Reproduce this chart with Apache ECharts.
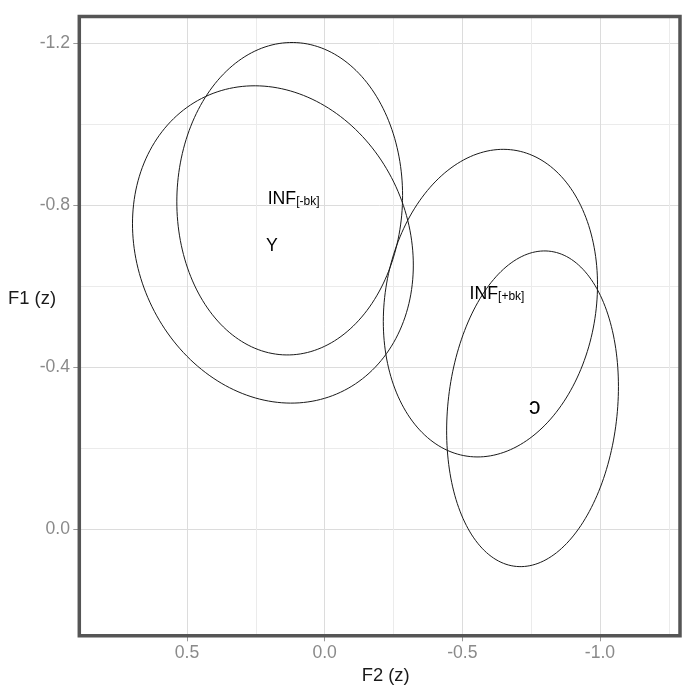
<!DOCTYPE html>
<html><head><meta charset="utf-8">
<script src="https://cdn.jsdelivr.net/npm/echarts@6/dist/echarts.min.js"></script>
<style>html,body{margin:0;padding:0;background:#fff}#c{width:698px;height:686px}</style>
</head><body><div id="c"></div>
<script>
// ---- data ----
const groups   = ['INF[-bk]', 'Y', 'INF[+bk]', 'ɔ'];
const centerF2 = [0.127, 0.188, -0.602, -0.755];   // ellipse centres (F2 z)
const centerF1 = [-0.816, -0.703, -0.558, -0.297]; // ellipse centres (F1 z)
const spreadF2 = [0.410, 0.510, 0.389, 0.312];     // horizontal half-extent
const spreadF1 = [0.386, 0.392, 0.380, 0.390];     // vertical half-extent
const corrF2F1 = [0.02, -0.13, 0.12, 0.14];        // tilt (correlation)
const labelF2  = [0.113, 0.192, -0.626, -0.763];
const labelF1  = [-0.816, -0.700, -0.581, -0.295];
const xMajor = [0.5, 0.0, -0.5, -1.0];
const xMinor = [0.25, -0.25, -0.75, -1.25];
const yMajor = [-1.2, -0.8, -0.4, 0.0];
const yMinor = [-1.0, -0.6, -0.2];
const xRange = [-1.2906, 0.8912];
const yRange = [-1.2662, 0.2639];

const FONT = "'Liberation Sans', Arial, Helvetica, sans-serif";
const fmt = v => Number(v).toFixed(1);

function ellipsePoints(i) {
  const cx = centerF2[i], cy = centerF1[i], sx = spreadF2[i], sy = spreadF1[i], r = corrF2F1[i];
  const s = Math.sqrt(1 - r * r), n = 200, pts = [];
  for (let k = 0; k <= n; k++) {
    const t = 2 * Math.PI * k / n;
    pts.push([cx + sx * Math.cos(t), cy + sy * (r * Math.cos(t) + s * Math.sin(t))]);
  }
  return pts;
}

function richLabel(name) {
  const m = name.match(/^(INF)(\[.*\])$/);
  if (m) return '{m|' + m[1] + '}{s|' + m[2] + '}';
  if (name === 'ɔ') return '{o|' + name + '}';
  return '{m|' + name + '}';
}

const series = groups.map((g, i) => ({
  type: 'line', name: g, data: ellipsePoints(i), showSymbol: false, symbol: 'none',
  lineStyle: { color: '#1a1a1a', width: 1 }, z: 3, silent: true
}));
series.push({
  type: 'scatter', symbolSize: 0, z: 4, silent: true,
  itemStyle: { color: '#000', opacity: 1 },
  data: groups.map((g, i) => ({ name: g, value: [labelF2[i], labelF1[i]] })),
  label: {
    show: true, position: 'inside', formatter: p => richLabel(p.name), opacity: 1,
    color: '#000', textBorderWidth: 0, textBorderColor: 'transparent',
    rich: {
      m: { fontSize: 17.7, lineHeight: 18, color: '#000', fontFamily: FONT, textBorderWidth: 0 },
      s: { fontSize: 12, lineHeight: 8, verticalAlign: 'bottom', color: '#000', fontFamily: FONT, textBorderWidth: 0 },
      o: { fontSize: 23, lineHeight: 18, color: '#000', fontFamily: FONT, padding: [0, 0, 4, 0], textBorderWidth: 0 }
    }
  }
});

const option = {
  animation: false,
  backgroundColor: '#fff',
  grid: { left: 79.3, top: 16.5, right: 18, bottom: 50.2, show: true, outerBoundsMode: 'none', containLabel: false,
          borderColor: '#555', borderWidth: 3.5, backgroundColor: 'transparent', z: 10 },
  graphic: [
    { type: 'text', left: 8, top: 290, z: 20, silent: true,
      style: { text: 'F1 (z)', fontSize: 18.4, fill: '#1a1a1a', fontFamily: FONT } }
  ],
  xAxis: [
    { type: 'value', inverse: true, min: xRange[0], max: xRange[1], position: 'bottom',
      axisLine: { show: false, onZero: false },
      axisTick: { show: true, length: 5.5, customValues: xMajor, lineStyle: { color: '#999', width: 1 } },
      axisLabel: { customValues: xMajor, formatter: fmt, color: '#8a8a8a', fontSize: 17.6, margin: 8, fontFamily: FONT },
      splitLine: { show: true, lineStyle: { color: '#dcdcdc', width: 1 } },
      name: 'F2 (z)', nameLocation: 'middle', nameGap: 28.5,
      nameTextStyle: { fontSize: 18.4, color: '#1a1a1a', fontFamily: FONT, padding: [0, 0, 0, 12] } },
    { type: 'value', inverse: true, min: xRange[0], max: xRange[1], position: 'bottom',
      axisLine: { show: false, onZero: false },
      axisTick: { show: false, customValues: xMinor },
      axisLabel: { show: false, customValues: xMinor },
      splitLine: { show: true, lineStyle: { color: '#ebebeb', width: 1 } } }
  ],
  yAxis: [
    { type: 'value', inverse: true, min: yRange[0], max: yRange[1], position: 'left',
      axisLine: { show: false, onZero: false },
      axisTick: { show: true, length: 6, customValues: yMajor, lineStyle: { color: '#999', width: 1 } },
      axisLabel: { customValues: yMajor, formatter: fmt, color: '#8a8a8a', fontSize: 17.6, margin: 9.3, fontFamily: FONT },
      splitLine: { show: true, lineStyle: { color: '#dcdcdc', width: 1 } } },
    { type: 'value', inverse: true, min: yRange[0], max: yRange[1], position: 'left',
      axisLine: { show: false, onZero: false },
      axisTick: { show: false, customValues: yMinor },
      axisLabel: { show: false, customValues: yMinor },
      splitLine: { show: true, lineStyle: { color: '#ebebeb', width: 1 } } }
  ],
  series: series
};

const chart = echarts.init(document.getElementById('c'), null, { renderer: 'canvas' });
chart.setOption(option);
</script>
</body></html>
